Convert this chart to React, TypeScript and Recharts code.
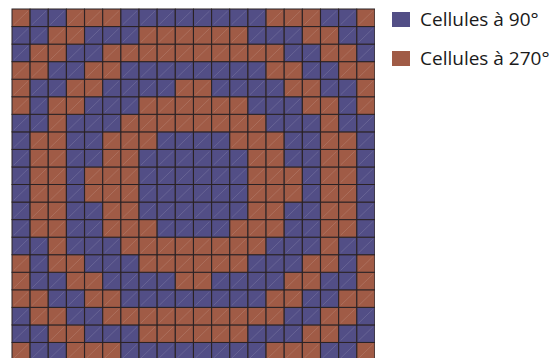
import { Bar, BarChart, Cell, XAxis, YAxis } from "recharts";

// grid, top row first: B = cell at 90°, R = cell at 270°
const ROWS = [
  "RBBRRRBBBBBBBBRRRBBR",
  "BBRRBBBRRRRRRBBBRRBB",
  "BRRBBRRRRRRRRRRBBRRB",
  "RRBBRRBBBBBBBBRRBBRR",
  "RBBRRBBBBRRBBBBRRBBR",
  "RBRRBBBRRRRRRBBBRRBR",
  "BBRBBBRRRRRRRRBBBRBB",
  "BRRBBRRRBBBBRRRBBRRB",
  "BRRBBRRBBBBBBRRBBRRB",
  "BRRBRRRBBBBBBRRRBRRB",
  "BRRBRRRBBBBBBRRRBRRB",
  "BRRBBRRBBBBBBRRBBRRB",
  "BRRBBRRRBBBBRRRBBRRB",
  "BBRBBBRRRRRRRRBBBRBB",
  "RBRRBBBRRRRRRBBBRRBR",
  "RBBRRBBBBRRBBBBRRBBR",
  "RRBBRRBBBBBBBBRRBBRR",
  "BRRBBRRRRRRRRRRBBRRB",
  "BBRRBBBRRRRRRBBBRRBB",
  "RBBRRRBBBBBBBBRRRBBR",
];

const COLUMNS = Array.from({ length: ROWS[0].length }, (_, i) => `c${i + 1}`);

const LEGEND = [
  { key: "B", label: "Cellules à 90°" },
  { key: "R", label: "Cellules à 270°" },
];

const COLORS: Record<string, string> = {
  B: "#524E86",
  R: "#A05B46",
};

// one unit per row, stacked, so every column is a bar of 20 cells
const data = COLUMNS.map((col) => {
  const point: Record<string, number | string> = { col };
  ROWS.forEach((_, r) => {
    point[`r${r}`] = 1;
  });
  return point;
});

function CellShape(props: any) {
  const { x, y, width, height, fill } = props;
  return (
    <g>
      <rect
        x={x}
        y={y}
        width={width}
        height={height}
        fill={fill}
        stroke="#2a2224"
        strokeWidth={1}
      />
      <line
        x1={x + 2}
        y1={y + height - 2}
        x2={x + width - 2}
        y2={y + 2}
        stroke="#ffffff"
        strokeOpacity={0.12}
        strokeWidth={1}
      />
    </g>
  );
}

export default function App() {
  // stack from the bottom row up
  const order = ROWS.map((_, r) => ROWS.length - 1 - r);

  return (
    <div
      style={{
        position: "relative",
        width: 557,
        height: 358,
        overflow: "hidden",
        background: "#fff",
        fontFamily: "'Open Sans', sans-serif",
      }}
    >
      <style>{`body{margin:0;overflow:hidden}`}</style>
      <BarChart
        width={375}
        height={360}
        data={data}
        margin={{ top: 9, right: 0, left: 12, bottom: 0 }}
        barCategoryGap={0}
        barGap={0}
        style={{ position: "absolute", left: 0, top: 0 }}
      >
        <XAxis dataKey="col" hide />
        <YAxis hide domain={[0, ROWS.length]} />
        {order.map((r) => (
          <Bar
            key={r}
            dataKey={`r${r}`}
            stackId="grid"
            isAnimationActive={false}
            shape={<CellShape />}
          >
            {COLUMNS.map((col, c) => (
              <Cell key={col} fill={COLORS[ROWS[r][c]]} />
            ))}
          </Bar>
        ))}
      </BarChart>
      {LEGEND.map((item, i) => (
        <div key={item.key}>
          <span
            style={{
              position: "absolute",
              left: 392,
              top: 12 + i * 38.5,
              width: 18,
              height: 15,
              background: COLORS[item.key],
            }}
          />
          <span
            style={{
              position: "absolute",
              left: 420,
              top: 9 + i * 38.5,
              fontSize: 19,
              lineHeight: "20px",
              color: "#1a1a1a",
              whiteSpace: "nowrap",
            }}
          >
            {item.label}
          </span>
        </div>
      ))}
    </div>
  );
}
